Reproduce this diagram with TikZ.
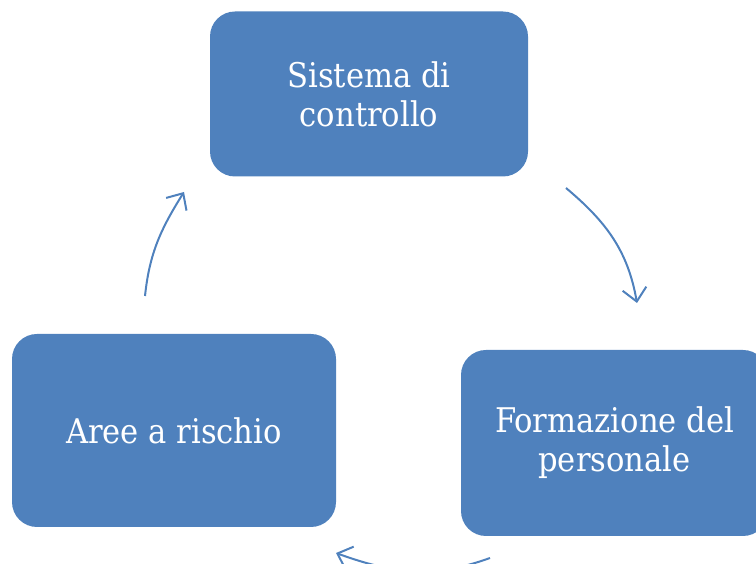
\documentclass[tikz,border=0pt]{standalone}
\usepackage{fontspec}
\setmainfont{DejaVu Serif Condensed}
\usetikzlibrary{arrows.meta}
\definecolor{boxblue}{HTML}{4F81BD}
\tikzset{
  cyclebox/.style={fill=boxblue, rounded corners=25pt, text=white, align=center,
    font=\fontsize{34}{39}\selectfont, inner sep=0pt},
  cyclearrow/.style={draw=boxblue, line width=2pt,
    -{Straight Barb[length=13pt,width=24pt,line width=2pt]}}
}
\begin{document}
\begin{tikzpicture}[x=1pt,y=1pt]
\useasboundingbox (0,0) rectangle (756,564);
\clip (0,0) rectangle (756,564);
\node[cyclebox, minimum width=318pt, minimum height=165pt] (top) at (369,470) {Sistema di\\controllo};
\node[cyclebox, minimum width=324pt, minimum height=193pt] (left) at (174,133.5) {Aree a rischio};
\node[cyclebox, minimum width=307pt, minimum height=186pt] (right) at (614.5,121) {Formazione del\\personale};
\coordinate (a1s) at (566,376);
\coordinate (a1e) at (637,261);
\coordinate (a2s) at (145,268);
\coordinate (a2e) at (184,372);
\coordinate (a3s) at (490,6);
\coordinate (a3e) at (336,11);
\draw[cyclearrow] (a1s) to[out=-40, in=100] (a1e);
\draw[cyclearrow] (a2s) to[out=84, in=238] (a2e);
\draw[cyclearrow] (a3s) to[out=200, in=-20] (a3e);
\end{tikzpicture}
\end{document}
